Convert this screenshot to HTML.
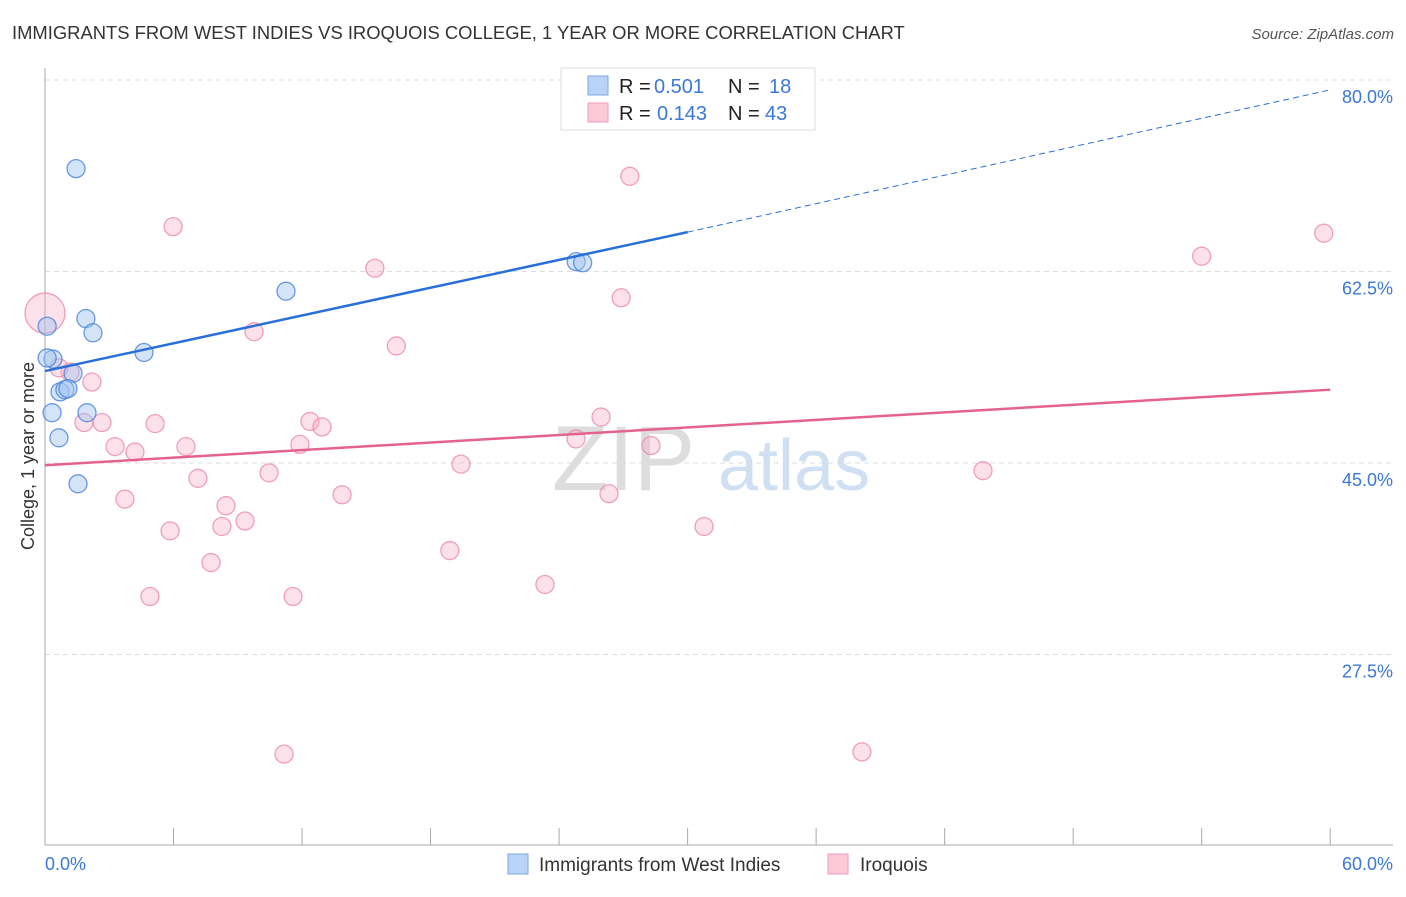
<!DOCTYPE html>
<html><head><meta charset="utf-8"><style>
body{margin:0;background:#fff;font-family:"Liberation Sans",sans-serif}
svg text{font-family:"Liberation Sans",sans-serif}
</style></head><body>
<svg id="c" width="1406" height="892" viewBox="0 0 1406 892">
<text x="12" y="39" font-size="18.4" fill="#333">IMMIGRANTS FROM WEST INDIES VS IROQUOIS COLLEGE, 1 YEAR OR MORE CORRELATION CHART</text>
<text x="1394" y="39" font-size="15" fill="#555" font-style="italic" text-anchor="end">Source: ZipAtlas.com</text>
<g><text x="552" y="490" font-size="92" fill="#ddd" font-family="Liberation Serif">ZIP</text><text x="718" y="490" font-size="72" fill="#cfe0f3">atlas</text></g>
<g id="grid"></g><g id="axes"></g><g id="marks"></g>
<text transform="translate(34,456) rotate(-90)" font-size="18" fill="#333" text-anchor="middle">College, 1 year or more</text>
<g>
<rect x="561" y="68" width="254" height="62" fill="#fff" stroke="#ddd"/>
<rect x="588" y="76" width="20" height="19" fill="#b8d3f5" stroke="#7aa8e6"/>
<rect x="588" y="103" width="20" height="19" fill="#fbc9d8" stroke="#f09ab5"/>
<g font-size="20">
<text x="619" y="93" fill="#222">R =</text><text x="654" y="93" fill="#3b78d8">0.501</text>
<text x="728" y="93" fill="#222">N =</text><text x="769" y="93" fill="#3b78d8">18</text></g>
<g font-size="20">
<text x="619" y="120" fill="#222">R =</text><text x="657" y="120" fill="#3b78d8">0.143</text>
<text x="728" y="120" fill="#222">N =</text><text x="765" y="120" fill="#3b78d8">43</text></g>
</g>
<g>
<rect x="508" y="854" width="20" height="20" fill="#b8d3f5" stroke="#7aa8e6"/>
<text x="539" y="871" font-size="19" fill="#333">Immigrants from West Indies</text>
<rect x="828" y="854" width="20" height="20" fill="#fbc9d8" stroke="#f09ab5"/>
<text x="860" y="871" font-size="19" fill="#333">Iroquois</text>
</g>
</svg>
<script>
const yTicks=[80,62.5,45,27.5];
const yTickLabels=["80.0%","62.5%","45.0%","27.5%"];
const xTickValues=[0,6,12,18,24,30,36,42,48,54,60];
const xEndLabels=["0.0%","60.0%"];
const blueX=[1.45,11.25,1.91,2.24,0.1,4.62,0.37,0.1,1.31,0.7,0.93,1.07,0.33,1.96,0.65,1.54,24.8,25.1];
const blueY=[71.9,60.7,58.2,56.9,57.5,55.1,54.5,54.6,53.2,51.5,51.7,51.8,49.6,49.6,47.3,43.1,63.4,63.3];
const pinkX=[0,5.98,27.3,15.4,26.9,59.7,54.0,9.76,16.4,2.19,1.17,0.65,1.82,2.66,3.27,4.2,5.14,6.58,3.73,7.14,5.84,8.45,9.34,8.26,7.75,4.9,10.46,11.9,12.37,12.93,13.87,11.58,11.16,19.42,18.9,23.34,24.79,25.96,26.33,28.29,30.77,43.79,38.14];
const pinkY=[58.7,66.6,71.2,62.8,60.1,66.0,63.9,57.0,55.7,52.4,53.3,53.7,48.7,48.7,46.5,46.0,48.6,46.5,41.7,43.6,38.8,41.1,39.7,39.2,35.9,32.8,44.1,46.7,48.8,48.3,42.1,32.8,18.4,44.9,37.0,33.9,47.2,49.2,42.2,46.6,39.2,44.3,18.6];
const blueTrend=[53.4,66.1,79.1];
const pinkTrend=[44.8,51.7];
const X=v=>45+v*21.42, Y=v=>80+(80-v)*10.943;
const NS="http://www.w3.org/2000/svg";
function mk(p,t,a){const e=document.createElementNS(NS,t);for(const k in a)e.setAttribute(k,a[k]);p.appendChild(e);return e;}
const g=document.getElementById('grid'),ax=document.getElementById('axes'),m=document.getElementById('marks');
yTicks.forEach((v,i)=>{
 const l=mk(g,'line',{x1:45,x2:1393,y1:Y(v),y2:Y(v),stroke:'#ddd','stroke-dasharray':'5,4'});
 
 
 const t=mk(g,'text',{x:1393,y:Y(v)+23,'font-size':18,fill:'#3b78d8','text-anchor':'end'});t.textContent=yTickLabels[i];
 
 
});
const ya=mk(ax,'line',{x1:45,x2:45,y1:68,y2:845,stroke:'#aaa'});


const xa=mk(ax,'line',{x1:45,x2:1393,y1:845,y2:845,stroke:'#aaa'});


xTickValues.forEach(v=>{const t=mk(ax,'line',{x1:X(v),x2:X(v),y1:828,y2:845,stroke:'#aaa'});
 
 });
[[0,'start'],[60,'end']].forEach((d,i)=>{const t=mk(ax,'text',{x:i?1393:45,y:870,'font-size':18,fill:'#3b78d8','text-anchor':d[1]});t.textContent=xEndLabels[i];
 
 });
pinkX.forEach((x,i)=>{const c=mk(m,'circle',{cx:X(x),cy:Y(pinkY[i]),r:i==0?20:9,fill:'rgba(248,170,195,0.35)',stroke:'rgba(236,130,165,0.75)','stroke-width':1.3});
 
 });
blueX.forEach((x,i)=>{const c=mk(m,'circle',{cx:X(x),cy:Y(blueY[i]),r:9,fill:'rgba(160,196,240,0.45)',stroke:'rgba(70,130,220,0.8)','stroke-width':1.3});
 
 });
const b1=mk(m,'line',{x1:X(0),y1:Y(blueTrend[0]),x2:X(30),y2:Y(blueTrend[1]),stroke:'#2870d8','stroke-width':2.5});


const b2=mk(m,'line',{x1:X(30),y1:Y(blueTrend[1]),x2:X(60),y2:Y(blueTrend[2]),stroke:'#2870d8','stroke-width':1,'stroke-dasharray':'6,4'});


const p1=mk(m,'line',{x1:X(0),y1:Y(pinkTrend[0]),x2:X(60),y2:Y(pinkTrend[1]),stroke:'#e3638e','stroke-width':2.5});


</script>
</body></html>
